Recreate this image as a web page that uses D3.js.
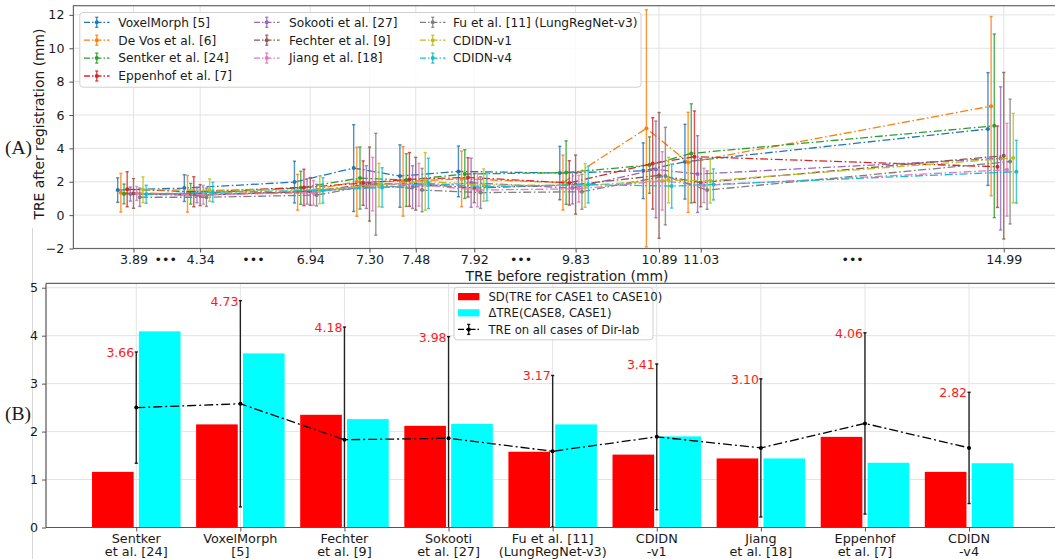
<!DOCTYPE html>
<html>
<head>
<meta charset="utf-8">
<script src="https://cdn.jsdelivr.net/npm/d3@7"></script>
<style>
  body { margin: 0; background: #fff; }
  text { font-family: "DejaVu Sans", sans-serif; fill: #1a1a1a; }
</style>
</head>
<body>
<div class="chart"></div>
<script>
// ---------- panel (A) data ----------
var caseLabels = ["3.89", "4.34", "6.94", "7.30", "7.48", "7.92", "9.83", "10.89", "11.03", "14.99"];
var casePos = [6.08, 12.82, 23.96, 29.95, 34.63, 40.55, 50.80, 59.24, 63.46, 94.11];
var gapPos = [9.34, 18.22, 45.28, 78.82];

var seriesNames = ["VoxelMorph [5]", "De Vos et al. [6]", "Sentker et al. [24]", "Eppenhof et al. [7]",
  "Sokooti et al. [27]", "Fechter et al. [9]", "Jiang et al. [18]", "Fu et al. [11] (LungRegNet-v3)",
  "CDIDN-v1", "CDIDN-v4"];
var colors = ["#1f77b4", "#ff7f0e", "#2ca02c", "#d62728", "#9467bd", "#8c564b", "#e377c2", "#7f7f7f", "#bcbd22", "#17becf"];

var mean_voxelmorph = [1.50, 1.62, 1.98, 2.82, 2.34, 2.62, 2.52, 2.66, 3.20, 5.16];
var sd_voxelmorph   = [0.73, 0.80, 1.25, 2.60, 1.87, 1.52, 1.60, 1.67, 2.24, 3.38];
var mean_devos      = [1.34, 1.28, 1.37, 2.00, 2.02, 2.17, 1.95, 5.20, 3.16, 6.53];
var sd_devos        = [1.16, 1.10, 1.07, 2.07, 2.08, 1.67, 1.65, 7.10, 3.00, 5.37];
var mean_sentker    = [1.27, 1.28, 1.64, 2.22, 2.10, 2.46, 2.55, 3.00, 3.70, 5.35];
var sd_sentker      = [0.59, 0.62, 0.99, 1.86, 1.58, 1.46, 1.90, 1.69, 2.97, 5.50];
var mean_eppenhof   = [1.55, 1.40, 1.66, 1.92, 2.14, 2.26, 1.93, 3.10, 3.50, 2.90];
var sd_eppenhof     = [1.05, 0.90, 1.09, 1.33, 1.61, 1.18, 1.33, 2.74, 2.74, 2.44];
var mean_sokooti    = [1.26, 1.20, 1.42, 1.68, 1.68, 1.94, 1.62, 2.74, 2.46, 3.40];
var sd_sokooti      = [0.42, 0.46, 0.76, 1.28, 1.28, 1.47, 0.95, 2.90, 2.30, 4.29];
var mean_fechter    = [1.30, 1.20, 1.42, 1.86, 1.88, 1.62, 1.83, 2.38, 1.95, 3.56];
var sd_fechter      = [0.89, 0.63, 0.83, 2.22, 1.58, 0.87, 1.77, 3.77, 1.45, 4.99];
var mean_jiang      = [1.30, 1.22, 1.34, 1.86, 1.82, 1.50, 1.58, 2.05, 1.78, 2.72];
var sd_jiang        = [0.42, 0.56, 0.74, 1.60, 1.28, 1.00, 0.80, 1.75, 1.03, 2.78];
var mean_fu         = [1.07, 1.07, 1.20, 1.85, 1.50, 1.35, 1.40, 2.34, 1.50, 3.21];
var sd_fu           = [0.55, 0.55, 0.65, 3.05, 1.30, 0.95, 1.05, 2.92, 1.15, 3.74];
var mean_cdidn1     = [1.52, 1.50, 1.52, 1.80, 2.02, 1.80, 1.78, 2.10, 2.06, 3.42];
var sd_cdidn1       = [0.77, 0.67, 0.84, 1.30, 1.73, 0.97, 1.31, 1.36, 1.34, 2.68];
var mean_cdidn4     = [1.25, 1.38, 1.48, 1.66, 1.90, 1.70, 1.83, 1.74, 1.84, 2.60];
var sd_cdidn4       = [0.54, 0.59, 0.76, 1.18, 1.51, 0.84, 1.10, 1.32, 0.93, 1.88];

var seriesMeans = [mean_voxelmorph, mean_devos, mean_sentker, mean_eppenhof, mean_sokooti,
  mean_fechter, mean_jiang, mean_fu, mean_cdidn1, mean_cdidn4];
var seriesSds = [sd_voxelmorph, sd_devos, sd_sentker, sd_eppenhof, sd_sokooti,
  sd_fechter, sd_jiang, sd_fu, sd_cdidn1, sd_cdidn4];
var yTicksA = [-2, 0, 2, 4, 6, 8, 10, 12];

// ---------- panel (B) data ----------
var methods = [["Sentker", "et al. [24]"], ["VoxelMorph", "[5]"], ["Fechter", "et al. [9]"],
  ["Sokooti", "et al. [27]"], ["Fu et al. [11]", "(LungRegNet-v3)"], ["CDIDN", "-v1"],
  ["Jiang", "et al. [18]"], ["Eppenhof", "et al. [7]"], ["CDIDN", "-v4"]];
var sdCases = [1.16, 2.15, 2.35, 2.12, 1.58, 1.52, 1.44, 1.89, 1.16];
var deltaTre = [4.09, 3.63, 2.26, 2.16, 2.15, 1.90, 1.44, 1.35, 1.34];
var treAll = [2.50, 2.58, 1.83, 1.86, 1.59, 1.89, 1.66, 2.17, 1.66];
var yTicksB = [0, 1, 2, 3, 4, 5];
var legendB = ["SD(TRE for CASE1 to CASE10)", "\u0394TRE(CASE8, CASE1)", "TRE on all cases of Dir-lab"];

var W = 1055, H = 559;
var dashdot = "8,2.6,1.6,2.6";
var seriesOffset = 0.32;

function build_svg(c) {
    return c.append("svg").attr("width", W).attr("height", H);
}

function errbar(g, x, ya, yb, color, cap, lw, op) {
    g.append("line").attr("x1", x).attr("x2", x).attr("y1", ya).attr("y2", yb)
        .attr("stroke", color).attr("stroke-width", lw).attr("opacity", op);
    [ya, yb].forEach(function (yy) {
        g.append("line").attr("x1", x - cap).attr("x2", x + cap).attr("y1", yy).attr("y2", yy)
            .attr("stroke", color).attr("stroke-width", lw).attr("opacity", op);
    });
}

function build_top(svg) {
    var x = d3.scaleLinear().domain([0, 100]).range([73.4, 1062]);
    var y = d3.scaleLinear().domain([-2, 12.55]).range([248.5, 5.7]);
    var g = svg.append("g");

    g.append("defs").append("clipPath").attr("id", "clipA")
        .append("rect").attr("x", 73.4).attr("y", 5.7).attr("width", 1062 - 73.4).attr("height", 248.5 - 5.7);

    // grid
    g.selectAll(".gy").data(yTicksA).enter().append("line")
        .attr("x1", 73.4).attr("x2", 1062).attr("y1", function (d) { return y(d); }).attr("y2", function (d) { return y(d); })
        .attr("stroke", "#e3e3e3").attr("stroke-width", 1);
    g.selectAll(".gx").data(casePos).enter().append("line")
        .attr("y1", 5.7).attr("y2", 248.5).attr("x1", function (d) { return x(d); }).attr("x2", function (d) { return x(d); })
        .attr("stroke", "#e3e3e3").attr("stroke-width", 1);

    var plot = g.append("g").attr("clip-path", "url(#clipA)");
    seriesMeans.forEach(function (m, i) {
        var col = colors[i];
        var px = function (j) { return x(casePos[j] + (i - 5) * seriesOffset); };
        var line = d3.line().x(function (d, j) { return px(j); }).y(function (d) { return y(d); });
        plot.append("path").attr("d", line(m)).attr("fill", "none").attr("stroke", col)
            .attr("stroke-width", 1.3).attr("stroke-dasharray", dashdot);
        m.forEach(function (v, j) {
            var s = seriesSds[i][j];
            errbar(plot, px(j), y(v + s), y(v - s), col, 1.6, 1.4, 0.8);
            plot.append("circle").attr("cx", px(j)).attr("cy", y(v)).attr("r", 2).attr("fill", col);
        });
    });

    // spines
    g.append("rect").attr("x", 73.4).attr("y", 5.7).attr("width", 1062 - 73.4).attr("height", 248.5 - 5.7)
        .attr("fill", "none").attr("stroke", "#666").attr("stroke-width", 1.2);

    var ya = g.append("g").attr("transform", "translate(73.4,0)")
        .call(d3.axisLeft(y).tickValues(yTicksA).tickSize(4).tickPadding(5));
    var xa = g.append("g").attr("transform", "translate(0,248.5)")
        .call(d3.axisBottom(x).tickValues(casePos).tickSize(4).tickPadding(3)
            .tickFormat(function (d, i) { return caseLabels[i]; }));
    [ya, xa].forEach(function (a) {
        a.select(".domain").remove();
        a.selectAll("line").attr("stroke", "#555");
        a.selectAll("text").attr("font-size", 12.6).attr("font-family", "DejaVu Sans").attr("fill", "#1a1a1a");
    });

    g.selectAll(".gap").data(gapPos).enter().append("text")
        .attr("x", function (d) { return x(d); }).attr("y", 264)
        .attr("text-anchor", "middle").attr("font-size", 12.6).text("\u2022\u2022\u2022");

    g.append("text").attr("x", 567).attr("y", 281).attr("text-anchor", "middle")
        .attr("font-size", 13.9).text("TRE before registration (mm)");
    g.append("text").attr("transform", "translate(44,124) rotate(-90)").attr("text-anchor", "middle")
        .attr("font-size", 13.9).text("TRE after registration (mm)");
    g.append("text").attr("x", 5).attr("y", 153.5).attr("font-size", 19.5)
        .style("font-family", "'Liberation Serif', serif").text("(A)");

    // legend
    var lg = g.append("g");
    lg.append("rect").attr("x", 79.8).attr("y", 12.5).attr("width", 641 - 79.8).attr("height", 87.2 - 12.5)
        .attr("rx", 3).attr("fill", "#fff").attr("fill-opacity", 0.85).attr("stroke", "#d0d0d0");
    var colX = [84, 254, 420], colText = [118.3, 289, 453], rows = [22.3, 40.2, 58.1, 76.0];
    var colOf = [0, 0, 0, 0, 1, 1, 1, 2, 2, 2], rowOf = [0, 1, 2, 3, 0, 1, 2, 0, 1, 2];
    seriesNames.forEach(function (name, i) {
        var hx = colX[colOf[i]], hy = rows[rowOf[i]], col = colors[i];
        lg.append("line").attr("x1", hx).attr("x2", hx + 25.5).attr("y1", hy).attr("y2", hy)
            .attr("stroke", col).attr("stroke-width", 1.3).attr("stroke-dasharray", "6,2,1.5,2");
        errbar(lg, hx + 12.75, hy - 5, hy + 5, col, 1.6, 1.4, 0.8);
        lg.append("circle").attr("cx", hx + 12.75).attr("cy", hy).attr("r", 2).attr("fill", col);
        lg.append("text").attr("x", colText[colOf[i]]).attr("y", hy).attr("dy", "0.36em")
            .attr("font-size", 12.2).text(name);
    });
}

function build_bottom(svg) {
    var x = d3.scaleLinear().domain([-0.867, 8.867]).range([46, 46 + 9.734 * 104.1]);
    var y = d3.scaleLinear().domain([0, 5.09]).range([527.5, 283.4]);
    var g = svg.append("g");
    var idx = d3.range(methods.length);

    g.append("defs").append("clipPath").attr("id", "clipB")
        .append("rect").attr("x", 46).attr("y", 283.4).attr("width", 1100).attr("height", 527.5 - 283.4);

    g.selectAll(".gy").data(yTicksB).enter().append("line")
        .attr("x1", 46).attr("x2", 1100).attr("y1", function (d) { return y(d); }).attr("y2", function (d) { return y(d); })
        .attr("stroke", "#e3e3e3");
    g.selectAll(".gx").data(idx).enter().append("line")
        .attr("y1", 283.4).attr("y2", 527.5).attr("x1", function (d) { return x(d); }).attr("x2", function (d) { return x(d); })
        .attr("stroke", "#e3e3e3");

    var plot = g.append("g").attr("clip-path", "url(#clipB)");
    var bw = x(0.4) - x(0);
    plot.selectAll(".sd").data(sdCases).enter().append("rect")
        .attr("x", function (d, i) { return x(i - 0.225) - bw / 2; })
        .attr("y", function (d) { return y(d); })
        .attr("width", bw).attr("height", function (d) { return y(0) - y(d); })
        .attr("fill", "#ff0000");
    plot.selectAll(".dt").data(deltaTre).enter().append("rect")
        .attr("x", function (d, i) { return x(i + 0.225) - bw / 2; })
        .attr("y", function (d) { return y(d); })
        .attr("width", bw).attr("height", function (d) { return y(0) - y(d); })
        .attr("fill", "#00ffff");

    var line = d3.line().x(function (d, i) { return x(i); }).y(function (d) { return y(d); });
    plot.append("path").attr("d", line(treAll)).attr("fill", "none").attr("stroke", "#000")
        .attr("stroke-width", 1.3).attr("stroke-dasharray", "9,3,2,3");
    treAll.forEach(function (m, i) {
        errbar(plot, x(i), y(m + sdCases[i]), y(m - sdCases[i]), "#000", 1.6, 1.4, 0.85);
        plot.append("circle").attr("cx", x(i)).attr("cy", y(m)).attr("r", 2).attr("fill", "#000");
    });
    g.selectAll(".lab").data(treAll).enter().append("text")
        .attr("x", function (d, i) { return x(i) - 2; })
        .attr("y", function (d, i) { return y(d + sdCases[i]); })
        .attr("dy", "0.4em").attr("text-anchor", "end").attr("font-size", 12.5)
        .style("fill", "#ff1a1a")
        .text(function (d, i) { return (d + sdCases[i]).toFixed(2); });

    g.append("line").attr("x1", 46).attr("x2", 1100).attr("y1", 283.4).attr("y2", 283.4).attr("stroke", "#666").attr("stroke-width", 1.2);
    g.append("line").attr("x1", 46).attr("x2", 1100).attr("y1", 527.5).attr("y2", 527.5).attr("stroke", "#555").attr("stroke-width", 1.2);
    g.append("line").attr("x1", 46).attr("x2", 46).attr("y1", 283.4).attr("y2", 527.5).attr("stroke", "#555").attr("stroke-width", 1.2);

    var ya = g.append("g").attr("transform", "translate(46,0)")
        .call(d3.axisLeft(y).tickValues(yTicksB).tickSize(4).tickPadding(4).tickFormat(d3.format("d")));
    var xa = g.append("g").attr("transform", "translate(0,527.5)")
        .call(d3.axisBottom(x).tickValues(idx).tickSize(4).tickFormat(""));
    [ya, xa].forEach(function (a) {
        a.select(".domain").remove();
        a.selectAll("line").attr("stroke", "#555");
        a.selectAll("text").attr("font-size", 12.6).attr("font-family", "DejaVu Sans").attr("fill", "#1a1a1a");
    });
    g.selectAll(".xl").data(methods).enter().append("text")
        .attr("text-anchor", "middle").attr("font-size", 12.8)
        .each(function (d, i) {
            var t = d3.select(this);
            t.append("tspan").attr("x", x(i)).attr("y", 542.5).text(d[0]);
            t.append("tspan").attr("x", x(i)).attr("y", 556.3).text(d[1]);
        });

    g.append("text").attr("x", 5).attr("y", 420).attr("font-size", 19.5)
        .style("font-family", "'Liberation Serif', serif").text("(B)");

    // legend
    var lg = g.append("g");
    lg.append("rect").attr("x", 454).attr("y", 287.4).attr("width", 653 - 454).attr("height", 339.8 - 287.4)
        .attr("rx", 3).attr("fill", "#fff").attr("fill-opacity", 0.85).attr("stroke", "#d0d0d0");
    var rows = [296.6, 312.8, 329.4];
    lg.append("rect").attr("x", 458).attr("y", rows[0] - 3.6).attr("width", 21.4).attr("height", 7.2).attr("fill", "#ff0000");
    lg.append("rect").attr("x", 458).attr("y", rows[1] - 3.6).attr("width", 21.4).attr("height", 7.2).attr("fill", "#00ffff");
    lg.append("line").attr("x1", 458).attr("x2", 479.4).attr("y1", rows[2]).attr("y2", rows[2])
        .attr("stroke", "#000").attr("stroke-width", 1.3).attr("stroke-dasharray", "6,2,1.5,2");
    errbar(lg, 468.7, rows[2] - 5, rows[2] + 5, "#000", 1.6, 1.4, 0.85);
    lg.append("circle").attr("cx", 468.7).attr("cy", rows[2]).attr("r", 2).attr("fill", "#000");
    legendB.forEach(function (t, i) {
        lg.append("text").attr("x", 488.5).attr("y", rows[i]).attr("dy", "0.36em").attr("font-size", 11.6).text(t);
    });
}

function main() {
    var svg = build_svg(d3.select(".chart"));
    svg.append("rect").attr("width", W).attr("height", H).attr("fill", "#fff");
    svg.append("line").attr("x1", 32.5).attr("x2", 32.5).attr("y1", 228).attr("y2", H)
        .attr("stroke", "#d8d8d8").attr("stroke-width", 1);
    build_top(svg);
    build_bottom(svg);
}

main();
</script>
</body>
</html>
